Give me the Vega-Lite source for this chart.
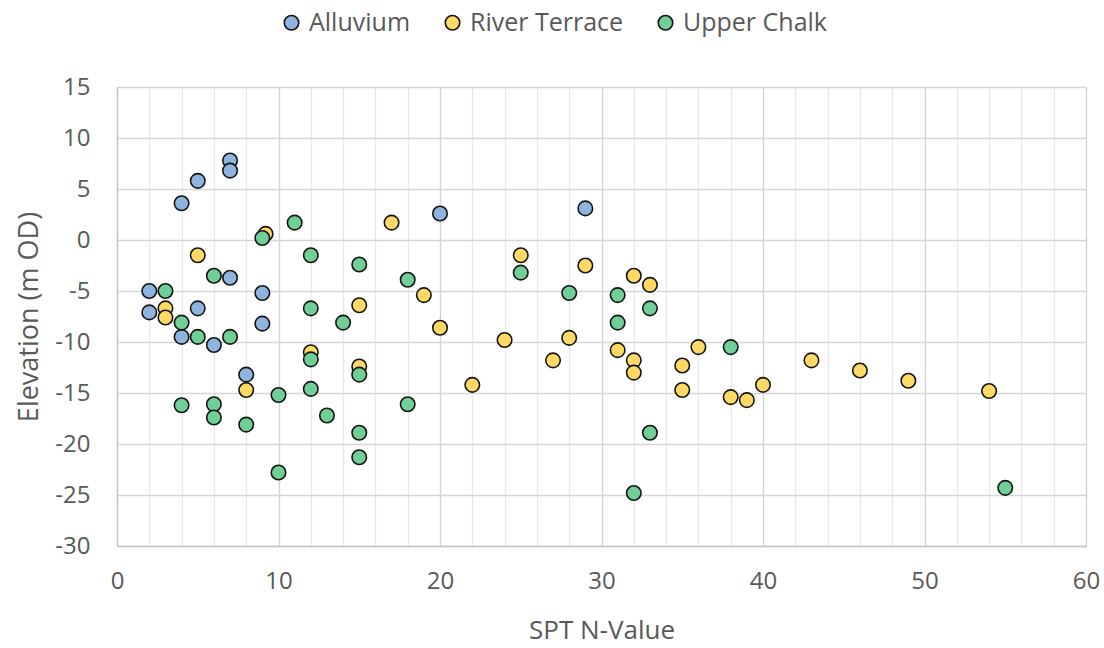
{
  "$schema": "https://vega.github.io/schema/vega-lite/v6.json",
  "width": 969,
  "height": 459,
  "autosize": {"type": "none"},
  "padding": {"left": 117, "top": 87, "right": 18, "bottom": 102},
  "background": "white",
  "config": {
    "view": {"stroke": null},
    "font": "Open Sans"
  },
  "data": {
    "values": [
      {"series": "Alluvium", "spt": 7, "elev": 7.8},
      {"series": "Alluvium", "spt": 7, "elev": 6.8},
      {"series": "Alluvium", "spt": 5, "elev": 5.8},
      {"series": "Alluvium", "spt": 4, "elev": 3.6},
      {"series": "Alluvium", "spt": 20, "elev": 2.6},
      {"series": "Alluvium", "spt": 29, "elev": 3.1},
      {"series": "Alluvium", "spt": 7, "elev": -3.7},
      {"series": "Alluvium", "spt": 2, "elev": -5.0},
      {"series": "Alluvium", "spt": 9, "elev": -5.2},
      {"series": "Alluvium", "spt": 2, "elev": -7.1},
      {"series": "Alluvium", "spt": 5, "elev": -6.7},
      {"series": "Alluvium", "spt": 9, "elev": -8.2},
      {"series": "Alluvium", "spt": 4, "elev": -9.5},
      {"series": "Alluvium", "spt": 6, "elev": -10.3},
      {"series": "Alluvium", "spt": 8, "elev": -13.2},
      {"series": "River Terrace", "spt": 9.2, "elev": 0.6},
      {"series": "River Terrace", "spt": 17, "elev": 1.7},
      {"series": "River Terrace", "spt": 5, "elev": -1.5},
      {"series": "River Terrace", "spt": 25, "elev": -1.5},
      {"series": "River Terrace", "spt": 29, "elev": -2.5},
      {"series": "River Terrace", "spt": 32, "elev": -3.5},
      {"series": "River Terrace", "spt": 33, "elev": -4.4},
      {"series": "River Terrace", "spt": 19, "elev": -5.4},
      {"series": "River Terrace", "spt": 15, "elev": -6.4},
      {"series": "River Terrace", "spt": 3, "elev": -6.7},
      {"series": "River Terrace", "spt": 3, "elev": -7.6},
      {"series": "River Terrace", "spt": 20, "elev": -8.6},
      {"series": "River Terrace", "spt": 24, "elev": -9.8},
      {"series": "River Terrace", "spt": 28, "elev": -9.6},
      {"series": "River Terrace", "spt": 31, "elev": -10.8},
      {"series": "River Terrace", "spt": 12, "elev": -11.0},
      {"series": "River Terrace", "spt": 36, "elev": -10.5},
      {"series": "River Terrace", "spt": 27, "elev": -11.8},
      {"series": "River Terrace", "spt": 32, "elev": -11.8},
      {"series": "River Terrace", "spt": 43, "elev": -11.8},
      {"series": "River Terrace", "spt": 15, "elev": -12.4},
      {"series": "River Terrace", "spt": 35, "elev": -12.3},
      {"series": "River Terrace", "spt": 32, "elev": -13.0},
      {"series": "River Terrace", "spt": 46, "elev": -12.8},
      {"series": "River Terrace", "spt": 49, "elev": -13.8},
      {"series": "River Terrace", "spt": 22, "elev": -14.2},
      {"series": "River Terrace", "spt": 40, "elev": -14.2},
      {"series": "River Terrace", "spt": 8, "elev": -14.7},
      {"series": "River Terrace", "spt": 35, "elev": -14.7},
      {"series": "River Terrace", "spt": 54, "elev": -14.8},
      {"series": "River Terrace", "spt": 38, "elev": -15.4},
      {"series": "River Terrace", "spt": 39, "elev": -15.7},
      {"series": "Upper Chalk", "spt": 11, "elev": 1.7},
      {"series": "Upper Chalk", "spt": 9, "elev": 0.2},
      {"series": "Upper Chalk", "spt": 12, "elev": -1.5},
      {"series": "Upper Chalk", "spt": 6, "elev": -3.5},
      {"series": "Upper Chalk", "spt": 3, "elev": -5.0},
      {"series": "Upper Chalk", "spt": 15, "elev": -2.4},
      {"series": "Upper Chalk", "spt": 25, "elev": -3.2},
      {"series": "Upper Chalk", "spt": 18, "elev": -3.9},
      {"series": "Upper Chalk", "spt": 28, "elev": -5.2},
      {"series": "Upper Chalk", "spt": 31, "elev": -5.4},
      {"series": "Upper Chalk", "spt": 12, "elev": -6.7},
      {"series": "Upper Chalk", "spt": 33, "elev": -6.7},
      {"series": "Upper Chalk", "spt": 4, "elev": -8.1},
      {"series": "Upper Chalk", "spt": 14, "elev": -8.1},
      {"series": "Upper Chalk", "spt": 31, "elev": -8.1},
      {"series": "Upper Chalk", "spt": 5, "elev": -9.5},
      {"series": "Upper Chalk", "spt": 7, "elev": -9.5},
      {"series": "Upper Chalk", "spt": 38, "elev": -10.5},
      {"series": "Upper Chalk", "spt": 12, "elev": -11.7},
      {"series": "Upper Chalk", "spt": 15, "elev": -13.2},
      {"series": "Upper Chalk", "spt": 12, "elev": -14.6},
      {"series": "Upper Chalk", "spt": 10, "elev": -15.2},
      {"series": "Upper Chalk", "spt": 4, "elev": -16.2},
      {"series": "Upper Chalk", "spt": 6, "elev": -16.1},
      {"series": "Upper Chalk", "spt": 18, "elev": -16.1},
      {"series": "Upper Chalk", "spt": 6, "elev": -17.4},
      {"series": "Upper Chalk", "spt": 13, "elev": -17.2},
      {"series": "Upper Chalk", "spt": 8, "elev": -18.1},
      {"series": "Upper Chalk", "spt": 15, "elev": -18.9},
      {"series": "Upper Chalk", "spt": 33, "elev": -18.9},
      {"series": "Upper Chalk", "spt": 15, "elev": -21.3},
      {"series": "Upper Chalk", "spt": 10, "elev": -22.8},
      {"series": "Upper Chalk", "spt": 32, "elev": -24.8},
      {"series": "Upper Chalk", "spt": 55, "elev": -24.3}
    ]
  },
  "mark": {"type": "point", "filled": true, "size": 210, "stroke": "#141414", "strokeWidth": 1.6, "opacity": 1},
  "encoding": {
    "x": {
      "field": "spt", "type": "quantitative",
      "scale": {"domain": [0, 60], "nice": false, "zero": false},
      "axis": {
        "title": "SPT N-Value",
        "values": [0,2,4,6,8,10,12,14,16,18,20,22,24,26,28,30,32,34,36,38,40,42,44,46,48,50,52,54,56,58,60],
        "labelExpr": "datum.value % 10 === 0 ? toString(datum.value) : ''",
        "gridColor": {"condition": {"test": "datum.value % 10 === 0", "value": "#D2D2D2"}, "value": "#E8E8E8"},
        "gridWidth": 1.3,
        "ticks": false,
        "domainColor": "#C6C6C6",
        "domainWidth": 1.5,
        "labelFontSize": 24,
        "labelColor": "#595959",
        "labelPadding": 23,
        "labelFlush": false,
        "titleFontSize": 26,
        "titleFontWeight": "normal",
        "titleColor": "#595959",
        "titlePadding": 24
      }
    },
    "y": {
      "field": "elev", "type": "quantitative",
      "scale": {"domain": [-30, 15], "nice": false, "zero": false},
      "axis": {
        "title": "Elevation (m OD)",
        "values": [-30,-25,-20,-15,-10,-5,0,5,10,15],
        "labelExpr": "toString(datum.value)",
        "gridColor": "#D6D6D6",
        "gridWidth": 1.3,
        "ticks": false,
        "domainColor": "#C6C6C6",
        "domainWidth": 1.5,
        "labelFontSize": 24,
        "labelColor": "#595959",
        "labelPadding": 27,
        "labelFlush": false,
        "titleFontSize": 27,
        "titleFontWeight": "normal",
        "titleColor": "#595959",
        "titlePadding": 11
      }
    },
    "color": {
      "field": "series", "type": "nominal",
      "scale": {"domain": ["Alluvium", "River Terrace", "Upper Chalk"], "range": ["#8FB4DF", "#FFD966", "#6FCF97"]},
      "legend": {
        "title": null,
        "orient": "none",
        "direction": "horizontal",
        "legendX": 162,
        "legendY": -77,
        "symbolType": "circle",
        "symbolSize": 210,
        "symbolStrokeColor": "#141414",
        "symbolStrokeWidth": 1.6,
        "labelFontSize": 25,
        "labelColor": "#595959",
        "labelOffset": 5,
        "columnPadding": 29
      }
    }
  }
}
